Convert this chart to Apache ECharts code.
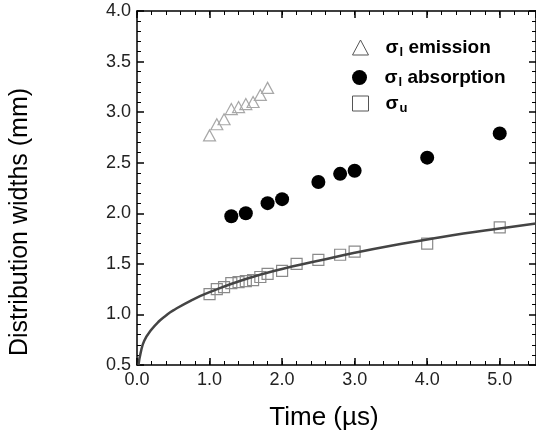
<!DOCTYPE html>
<html>
<head>
<meta charset="utf-8">
<script src="https://cdn.jsdelivr.net/npm/echarts@6/dist/echarts.min.js"></script>
<style>html,body{margin:0;padding:0;background:#fff}#c{width:536px;height:439px}</style>
</head>
<body>
<div id="c"></div>
<script>
// ---- data ----
const emission = [[1.0,2.77],[1.1,2.88],[1.2,2.93],[1.3,3.03],[1.4,3.05],[1.5,3.08],[1.6,3.10],[1.7,3.17],[1.8,3.24]];
const absorption = [[1.3,1.97],[1.5,2.00],[1.8,2.10],[2.0,2.14],[2.5,2.31],[2.8,2.39],[3.0,2.42],[4.0,2.55],[5.0,2.79]];
const sigmaU = [[1.0,1.20],[1.1,1.25],[1.2,1.27],[1.3,1.31],[1.4,1.32],[1.5,1.33],[1.6,1.34],[1.7,1.37],[1.8,1.40],[2.0,1.43],[2.2,1.50],[2.5,1.54],[2.8,1.59],[3.0,1.62],[4.0,1.70],[5.0,1.86]];
const fitCurve = [[0.02,0.5],[0.05,0.62],[0.1,0.74],[0.2,0.85],[0.3,0.93],[0.4,0.99],[0.5,1.04],[0.75,1.14],[1.0,1.22],[1.5,1.35],[2.0,1.45],[2.5,1.53],[3.0,1.61],[3.5,1.68],[4.0,1.74],[4.5,1.80],[5.0,1.85],[5.5,1.90]];
const xRange = [0, 5.5];
const yRange = [0.5, 4.0];
const xTitle = 'Time (µs)';
const yTitle = 'Distribution widths (mm)';
const names = ['σl emission', 'σl absorption', 'σu'];

const FONT = '"Liberation Sans", Arial, sans-serif';
const chart = echarts.init(document.getElementById('c'), null, {renderer: 'canvas'});

function xAx(pos, interval, len, major) {
  return {
    type: 'value', position: pos, min: xRange[0], max: xRange[1], interval: interval,
    axisLine: {show: major, onZero: false, lineStyle: {color: '#000', width: 1.5}},
    axisTick: {show: true, inside: true, length: len, lineStyle: {color: '#000', width: major ? 1.5 : 1}},
    axisLabel: {show: major && pos === 'bottom', showMaxLabel: false, margin: 6, fontSize: 18, fontFamily: FONT, color: '#222',
      formatter: v => v.toFixed(1)},
    splitLine: {show: false}
  };
}
function yAx(pos) {
  return {
    type: 'value', position: pos, min: yRange[0], max: yRange[1], interval: 0.5,
    axisLine: {show: true, onZero: false, lineStyle: {color: '#000', width: 1.5}},
    axisTick: {show: true, inside: true, length: 7, lineStyle: {color: '#000', width: 1.5}},
    minorTick: {show: true, splitNumber: 5, length: 4, lineStyle: {color: '#000', width: 1}},
    axisLabel: {show: pos === 'left', margin: 6, fontSize: 18, fontFamily: FONT, color: '#222',
      formatter: v => v.toFixed(1)},
    splitLine: {show: false}
  };
}

function legendFmt(name) {
  if (name === names[0]) return '{p|}{g|σ}{sub|l}{t| emission}';
  if (name === names[1]) return '{p|}{g|σ}{sub|l}{t| absorption}';
  return '{p|}{g|σ}{sub|u}';
}
const rich = {
  p: {width: 12},
  g: {fontSize: 19, fontWeight: 'bold', fontFamily: FONT, color: '#000'},
  sub: {fontSize: 13, fontWeight: 'bold', fontFamily: FONT, color: '#000', padding: [9, 0, 0, 1]},
  t: {fontSize: 19, fontWeight: 'bold', fontFamily: FONT, color: '#000'}
};
function leg(name, top, icon, style) {
  return {
    data: [{name: name, icon: icon, itemStyle: style}],
    left: 352, top: top, padding: 0, itemWidth: 16, itemHeight: 15,
    formatter: legendFmt, textStyle: {rich: rich, fontFamily: FONT}, selectedMode: false
  };
}

chart.setOption({
  animation: false,
  backgroundColor: '#fff',
  grid: {left: 137, top: 11, width: 402.6, height: 354, containLabel: false},
  xAxis: [xAx('bottom', 1, 7, true), xAx('bottom', 0.2, 4, false), xAx('top', 1, 7, true), xAx('top', 0.2, 4, false)],
  yAxis: [yAx('left'), yAx('right')],
  legend: [
    leg(names[0], 38, 'triangle', {color: 'rgba(0,0,0,0)', borderColor: '#555', borderWidth: 1, opacity: 1}),
    leg(names[1], 68, 'circle', {color: '#000', borderWidth: 0, opacity: 1}),
    leg(names[2], 94, 'rect', {color: 'rgba(0,0,0,0)', borderColor: '#555', borderWidth: 1, opacity: 1})
  ],
  graphic: [
    {type: 'text', x: 324, y: 418, style: {text: xTitle, font: '26px ' + FONT, fill: '#000', align: 'center', verticalAlign: 'middle'}},
    {type: 'text', x: 20, y: 222, rotation: Math.PI / 2, style: {text: yTitle, font: '25px ' + FONT, fill: '#000', align: 'center', verticalAlign: 'middle'}}
  ],
  series: [
    {name: names[0], type: 'scatter', data: emission, symbol: 'triangle', symbolSize: [12, 11],
      itemStyle: {color: 'rgba(0,0,0,0)', borderColor: '#a8a8a8', borderWidth: 1.2, opacity: 1}},
    {name: names[1], type: 'scatter', data: absorption, symbol: 'circle', symbolSize: 14,
      itemStyle: {color: '#000', opacity: 1}},
    {name: names[2], type: 'scatter', data: sigmaU, symbol: 'rect', symbolSize: 11,
      itemStyle: {color: 'rgba(0,0,0,0)', borderColor: '#8a8a8a', borderWidth: 1.2, opacity: 1}},
    {name: 'fit', type: 'line', data: fitCurve, smooth: true, showSymbol: false, symbol: 'none',
      lineStyle: {color: '#444', width: 2.5}, z: 3, silent: true}
  ]
});
</script>
</body>
</html>
